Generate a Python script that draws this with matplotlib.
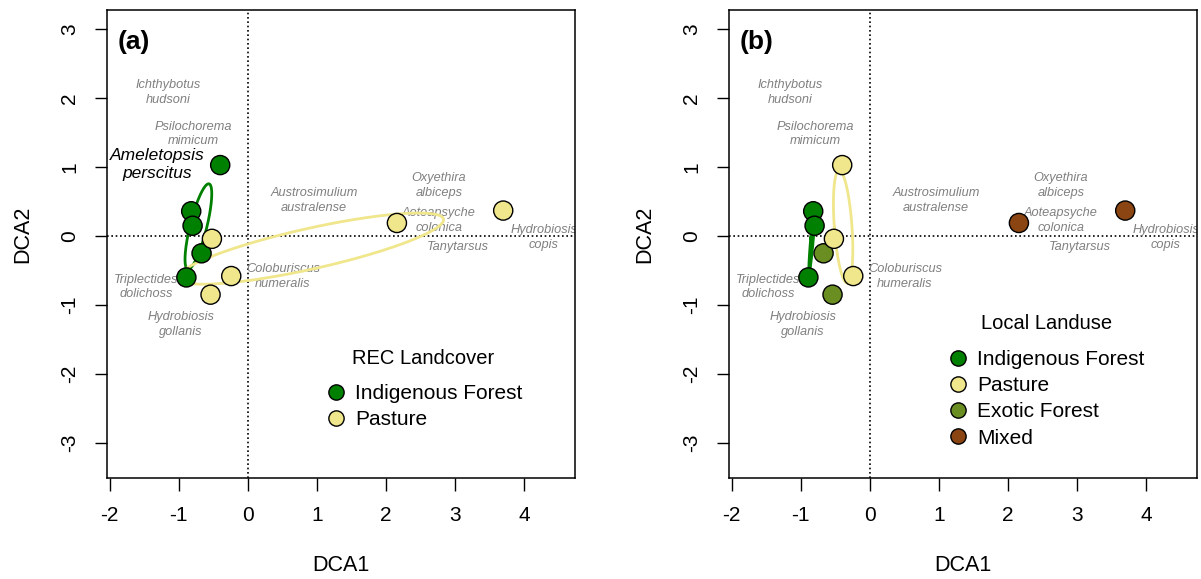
import matplotlib
matplotlib.use("Agg")
import matplotlib.pyplot as plt
from matplotlib.lines import Line2D
import numpy as np

plt.rcParams['font.family'] = ['Liberation Sans', 'DejaVu Sans']
plt.rcParams['axes.unicode_minus'] = False

# DCA site scores
site_dca1 = [-0.40, -0.82, -0.80, -0.67, -0.89, -0.52, -0.24, -0.54, 2.16, 3.70]
site_dca2 = [1.03, 0.36, 0.15, -0.25, -0.60, -0.04, -0.58, -0.85, 0.19, 0.37]

rec_landcover = ['Indigenous Forest', 'Indigenous Forest', 'Indigenous Forest',
                 'Indigenous Forest', 'Indigenous Forest', 'Pasture', 'Pasture',
                 'Pasture', 'Pasture', 'Pasture']
local_landuse = ['Pasture', 'Indigenous Forest', 'Indigenous Forest',
                 'Exotic Forest', 'Indigenous Forest', 'Pasture', 'Pasture',
                 'Exotic Forest', 'Mixed', 'Mixed']

rec_levels = ['Indigenous Forest', 'Pasture']
local_levels = ['Indigenous Forest', 'Pasture', 'Exotic Forest', 'Mixed']

# species scores (label positions)
species_names = ['Ichthybotus\nhudsoni', 'Psilochorema\nmimicum',
                 'Austrosimulium\naustralense', 'Oxyethira\nalbiceps',
                 'Aoteapsyche\ncolonica', 'Tanytarsus', 'Hydrobiosis\ncopis',
                 'Coloburiscus\nhumeralis', 'Triplectides\ndolichoss',
                 'Hydrobiosis\ngollanis']
species_dca1 = [-1.16, -0.79, 0.96, 2.77, 2.77, 3.04, 4.29, 0.51, -1.47, -0.97]
species_dca2 = [2.08, 1.48, 0.52, 0.73, 0.23, -0.16, -0.02, -0.59, -0.74, -1.28]

indicator_name = 'Ameletopsis\nperscitus'
indicator_dca1 = -1.31
indicator_dca2 = 1.04

colours = {'Indigenous Forest': '#008000', 'Pasture': '#F0E68C',
           'Exotic Forest': '#6B8E23', 'Mixed': '#8B4513'}

x = np.array(site_dca1)
y = np.array(site_dca2)


def sd_ellipse(ax, xs, ys, colour):
    # standard deviation ellipse (like vegan::ordiellipse kind="sd")
    cov = np.cov(xs, ys)
    vals, vecs = np.linalg.eigh(cov)
    t = np.linspace(0, 2 * np.pi, 200)
    circ = np.vstack([np.cos(t), np.sin(t)])
    pts = vecs @ (np.sqrt(vals)[:, None] * circ)
    ax.plot(pts[0] + xs.mean(), pts[1] + ys.mean(), color=colour, lw=2, zorder=2)


def panel(ax, groups, levels, title, tag, show_indicator, leg_anchor, title_xy):
    ax.set_xlim(-2.04, 4.74)
    ax.set_ylim(-3.51, 3.28)
    ax.axhline(0, color='black', lw=1.2, ls=(0, (1, 1.6)), zorder=1)
    ax.axvline(0, color='black', lw=1.2, ls=(0, (1, 1.6)), zorder=1)

    for name, sx, sy in zip(species_names, species_dca1, species_dca2):
        ax.text(sx, sy, name, color='#808080', style='italic', fontsize=9.2,
                ha='center', va='center', linespacing=1.3, clip_on=True, zorder=1)
    if show_indicator:
        ax.text(indicator_dca1, indicator_dca2, indicator_name, color='black',
                style='italic', fontsize=12.5, ha='center', va='center',
                linespacing=1.25, zorder=1)

    g = np.array(groups)
    for lev in levels:
        m = g == lev
        if m.sum() >= 3:
            sd_ellipse(ax, x[m], y[m], colours[lev])

    ax.scatter(x, y, s=190, c=[colours[k] for k in groups],
               edgecolors='black', linewidths=1, zorder=3)

    ax.text(0.022, 0.932, tag, transform=ax.transAxes, fontsize=19,
            fontweight='bold', ha='left', va='center')

    handles = [Line2D([], [], ls='none', marker='o', markersize=11,
                      markerfacecolor=colours[k], markeredgecolor='black',
                      markeredgewidth=1) for k in levels]
    ax.legend(handles, levels, loc='upper left', bbox_to_anchor=leg_anchor,
              frameon=False, fontsize=15, handletextpad=0.3,
              labelspacing=0.35, borderpad=0, handlelength=1.2)
    ax.text(title_xy[0], title_xy[1], title, transform=ax.transAxes,
            fontsize=14.5, ha='center', va='center')

    ax.set_xticks(range(-2, 5))
    ax.set_yticks(range(-3, 4))
    ax.tick_params(length=9, width=1, labelsize=15, pad=11, direction='out')
    for lab in ax.get_yticklabels():
        lab.set_rotation(90)
        lab.set_va('center')
    for s in ax.spines.values():
        s.set_linewidth(1.1)

    ax.set_xlabel('DCA1', fontsize=15.5)
    ax.set_ylabel('DCA2', fontsize=15.5)
    ax.xaxis.set_label_coords(0.5, -0.188)
    ax.xaxis.label.set_va('center')
    ax.yaxis.set_label_coords(-0.179, 0.52)
    ax.yaxis.label.set_va('center')


fig = plt.figure(figsize=(12.01, 5.79), dpi=100)
w, h = 468 / 1201, 468 / 579
b = 101 / 579
ax1 = fig.add_axes([107 / 1201, b, w, h])
ax2 = fig.add_axes([729 / 1201, b, w, h])

panel(ax1, rec_landcover, rec_levels, 'REC Landcover', '(a)', True,
      (0.441, 0.223), (0.675, 0.256))
panel(ax2, local_landuse, local_levels, 'Local Landuse', '(b)', False,
      (0.441, 0.296), (0.679, 0.331))

fig.savefig('out.png', dpi=100)
